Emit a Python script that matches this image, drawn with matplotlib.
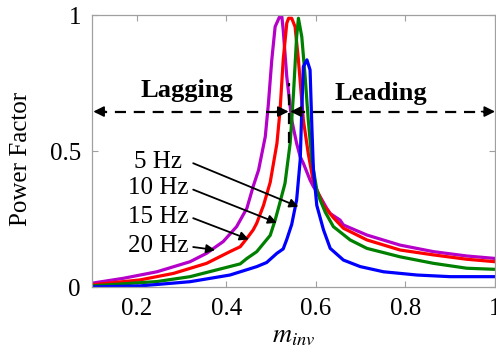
import matplotlib
matplotlib.use("Agg")
import matplotlib.pyplot as plt

# Power factor vs inverter modulation index
x_20hz = [0.10, 0.17, 0.245, 0.319, 0.356, 0.393, 0.423, 0.446, 0.46, 0.472, 0.487, 0.494,
          0.5015, 0.509, 0.519, 0.524, 0.527, 0.535, 0.546, 0.557, 0.565, 0.572, 0.587,
          0.5945, 0.6095, 0.624, 0.632, 0.654, 0.6615, 0.714, 0.788, 0.8625, 0.937, 1.0]
pf_20hz = [0.014, 0.032, 0.056, 0.093, 0.124, 0.167, 0.222, 0.29, 0.37, 0.43, 0.553, 0.675,
           0.835, 0.957, 0.994, 0.994, 0.945, 0.773, 0.614, 0.528, 0.479, 0.455, 0.393,
           0.369, 0.332, 0.29, 0.27, 0.246, 0.228, 0.191, 0.154, 0.13, 0.114, 0.105]

x_15hz = [0.10, 0.207, 0.282, 0.356, 0.408, 0.431, 0.446, 0.46, 0.468, 0.483, 0.498, 0.513,
          0.52, 0.527, 0.535, 0.539, 0.546, 0.5535, 0.561, 0.572, 0.583, 0.594, 0.617,
          0.639, 0.6615, 0.714, 0.788, 0.8625, 0.937, 1.0]
pf_15hz = [0.008, 0.026, 0.05, 0.087, 0.13, 0.148, 0.179, 0.21, 0.235, 0.30, 0.385, 0.528,
           0.65, 0.835, 0.97, 0.988, 0.988, 0.957, 0.835, 0.614, 0.49, 0.39, 0.30,
           0.255, 0.216, 0.173, 0.136, 0.118, 0.102, 0.093]

x_10hz = [0.10, 0.245, 0.319, 0.393, 0.431, 0.446, 0.468, 0.483, 0.498, 0.509, 0.518, 0.531,
          0.5425, 0.55, 0.557, 0.561, 0.5685, 0.576, 0.583, 0.591, 0.602, 0.6095, 0.621,
          0.639, 0.6765, 0.714, 0.788, 0.8625, 0.937, 1.0]
pf_10hz = [0.004, 0.02, 0.038, 0.069, 0.085, 0.105, 0.13, 0.16, 0.19, 0.246, 0.30, 0.381,
           0.528, 0.712, 0.92, 0.988, 0.92, 0.773, 0.614, 0.467, 0.357, 0.32, 0.275,
           0.222, 0.173, 0.142, 0.111, 0.087, 0.069, 0.065]

x_5hz = [0.10, 0.207, 0.319, 0.408, 0.468, 0.49, 0.513, 0.527, 0.535, 0.546, 0.557, 0.565,
         0.5685, 0.572, 0.58, 0.587, 0.591, 0.5945, 0.602, 0.617, 0.632, 0.6615, 0.699,
         0.751, 0.826, 0.90, 1.0]
pf_5hz = [0.0, 0.004, 0.0195, 0.044, 0.075, 0.09, 0.124, 0.14, 0.175, 0.23, 0.32, 0.467,
          0.65, 0.81, 0.835, 0.798, 0.589, 0.43, 0.30, 0.21, 0.142, 0.099, 0.075,
          0.056, 0.044, 0.038, 0.038]

freq_labels = ["5 Hz", "10 Hz", "15 Hz", "20 Hz"]
label_x = [0.30, 0.315, 0.315, 0.315]
label_y = [0.46, 0.363, 0.258, 0.152]
arrow_tips = [(0.561, 0.295), (0.513, 0.236), (0.45, 0.175), (0.375, 0.136)]

x_ticks = [0.2, 0.4, 0.6, 0.8, 1.0]
x_tick_labels = ["0.2", "0.4", "0.6", "0.8", "1"]
y_ticks = [0, 0.5, 1]
y_tick_labels = ["0", "0.5", "1"]

plt.rcParams["font.family"] = ["Liberation Serif", "DejaVu Serif"]
plt.rcParams["mathtext.fontset"] = "stix"

fig = plt.figure(figsize=(4.96, 3.6), dpi=100)
ax = fig.add_axes([92 / 496, 73 / 360, 403 / 496, 272 / 360])

lw = 2.3
ax.plot(x_20hz, pf_20hz, color="#b400c8", lw=lw)
ax.plot(x_15hz, pf_15hz, color="#ff0000", lw=lw)
ax.plot(x_10hz, pf_10hz, color="#008000", lw=lw)
ax.plot(x_5hz, pf_5hz, color="#0000ff", lw=lw)

# lagging / leading regions
y_arr = 0.645
x_split = 0.541
dash = dict(color="k", lw=1.6, ls=(0, (5, 3.5)))
ax.plot([0.11, x_split - 0.01], [y_arr, y_arr], **dash)
ax.plot([x_split + 0.01, 0.99], [y_arr, y_arr], **dash)
ax.plot([x_split, x_split], [0.53, 0.75], **dash)
head = dict(arrowstyle="-|>", color="k", lw=1.2, mutation_scale=16, shrinkA=0, shrinkB=0)
for tip, tail in [(0.103, 0.13), (x_split - 0.002, x_split - 0.03),
                  (x_split + 0.002, x_split + 0.03), (1.0, 0.97)]:
    ax.annotate("", xy=(tip, y_arr), xytext=(tail, y_arr), arrowprops=head)
ax.text(0.312, 0.724, "Lagging", ha="center", va="center", fontsize=19, fontweight="bold")
ax.text(0.745, 0.713, "Leading", ha="center", va="center", fontsize=19, fontweight="bold")

for lab, lx, ly, tip in zip(freq_labels, label_x, label_y, arrow_tips):
    ax.text(lx, ly, lab, ha="right", va="center", fontsize=18)
    ax.annotate("", xy=tip, xytext=(0.326, ly - 0.005),
                arrowprops=dict(arrowstyle="-|>", color="k", lw=1.3,
                                mutation_scale=13, shrinkA=0, shrinkB=0))

ax.set_xlim(0.1, 1.0)
ax.set_ylim(0, 1)
ax.set_xticks(x_ticks)
ax.set_xticklabels(x_tick_labels)
ax.set_yticks(y_ticks)
ax.set_yticklabels(y_tick_labels)
ax.tick_params(direction="in", top=True, right=True, length=4, width=0.8,
               color="#a0a0a0", labelsize=18)
ax.tick_params(axis="x", pad=8)
ax.tick_params(axis="y", pad=8)
for sp in ax.spines.values():
    sp.set_color("#a0a0a0")
    sp.set_linewidth(0.9)

ax.set_xlabel(r"$m_{inv}$", fontsize=19, labelpad=4)
ax.set_ylabel("Power Factor", fontsize=18)
ax.yaxis.set_label_coords(-0.148, 0.47)

fig.savefig("out.png", dpi=100)
